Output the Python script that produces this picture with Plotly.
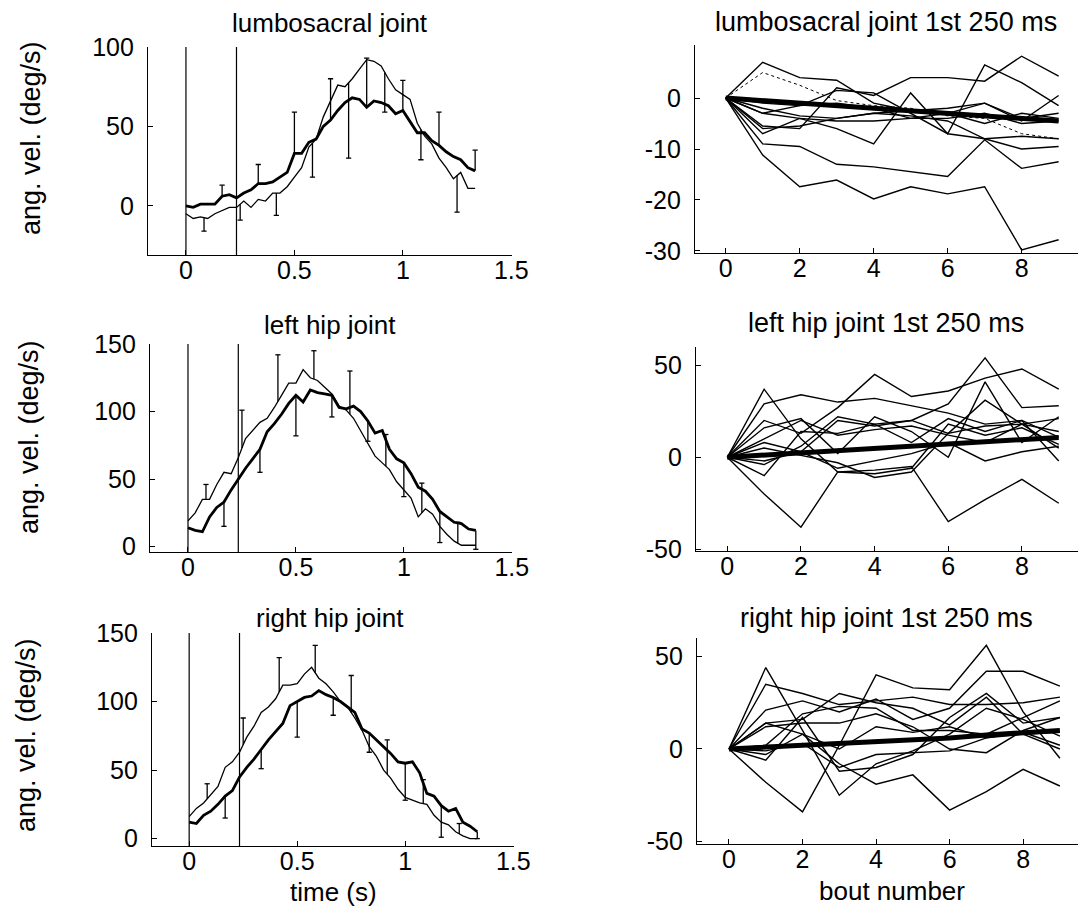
import numpy as np
import plotly.graph_objects as go

# page body keeps an 8px default margin, so the figure is 8px smaller and all
# pixel positions below (measured on the 1086x908 page) are shifted by OFF
OFF = 8
W, H = 1086 - OFF, 908 - OFF
FONT = "Liberation Sans, Arial, Helvetica, sans-serif"

# ---------------- data: left column (ensemble averages) ----------------
time_s = [round(i / 30, 4) for i in range(41)]
event_times = [0.0, 0.233]

lumbo_thick = [0, -1, 1, 1, 1, 6, 7, 5, 8, 10, 14, 14, 15, 18, 21, 33, 33, 40, 42, 50,
               54, 60, 65, 68, 67, 62, 66, 65, 63, 58, 60, 53, 46, 46, 41, 38, 34, 31, 29, 24, 22]
lumbo_thin = [-5, -8, -7, -8, -5, -3, -1, -1, 3, -1, 4, 3, 8, 8, 12, 18, 24, 37, 42, 56,
              66, 76, 75, 80, 86, 92, 91, 88, 80, 73, 70, 67, 52, 44, 39, 30, 24, 17, 21, 11, 11]
lhip_thin = [19, 25, 35, 35, 46, 55, 54, 66, 80, 86, 92, 95, 103, 112, 121, 121, 131, 125, 123, 118,
             113, 104, 101, 95, 86, 77, 67, 62, 57, 48, 42, 36, 22, 28, 24, 15, 9, 4, 1, 1, 1]
lhip_thick = [14, 12, 11, 22, 29, 33, 42, 50, 58, 65, 72, 85, 91, 98, 106, 112, 107, 116, 114, 113,
              112, 103, 102, 104, 100, 93, 84, 86, 72, 65, 62, 54, 44, 41, 35, 26, 22, 18, 17, 13, 12]
rhip_thin = [16, 22, 26, 32, 38, 52, 56, 63, 74, 82, 92, 96, 102, 112, 112, 113, 120, 125, 117, 113,
             107, 100, 96, 88, 79, 67, 60, 50, 44, 36, 30, 28, 26, 25, 17, 12, 10, 5, 2, 0, 0]
rhip_thick = [12, 11, 17, 20, 25, 31, 35, 45, 52, 58, 65, 72, 78, 84, 97, 100, 103, 104, 108, 105,
              103, 100, 96, 92, 80, 77, 72, 67, 62, 56, 55, 56, 48, 33, 31, 24, 20, 22, 12, 9, 5]

# error bars: odd twelfths on the thin trace, even twelfths on the thick trace
err_t_thin = [1/12, 3/12, 5/12, 7/12, 9/12, 11/12, 13/12, 15/12]
err_t_thick = [2/12, 4/12, 6/12, 8/12, 10/12, 12/12, 14/12, 16/12]
lumbo_err_thin_end = [-16, -9, -6, 18, 30, 59, 29, -4]
lumbo_err_thick_end = [13, 26, 59, 80, 93, 79, 59, 35]
lhip_err_thin_end = [46, 101, 142, 145, 130, 83, 47, 18]
lhip_err_thick_end = [15, 55, 82, 96, 78, 37, 3, -2]
rhip_err_thin_end = [40, 88, 132, 141, 119, 72, 43, 11]
rhip_err_thick_end = [15, 51, 74, 90, 63, 28, 1, 0]

# ---------------- data: right column (first 250 ms per bout) ----------------
bouts = list(range(10))
lumbo_bouts = [
    [0, 7.0, 4.0, 3.5, -1.0, -2.5, -3.0, -5.0, -3.0, -4.0],
    [0, -5.5, -6.0, 2.0, 0.5, 4.0, 4.0, 3.3, 8.2, 4.3],
    [0, -3.0, -4.0, -6.0, -9.0, 1.0, -7.0, 6.5, 3.0, -1.5],
    [0, -9.0, -9.5, -13.0, -13.5, -14.5, -15.4, -8.2, -13.8, -12.5],
    [0, -11.2, -17.4, -16.1, -19.8, -17.4, -18.8, -17.4, -29.8, -27.8],
    [0, -7.0, -4.0, -4.5, -4.5, -4.0, -4.0, -3.0, -5.0, -4.5],
    [0, -3.0, -1.5, 1.5, 1.0, -3.0, -7.0, -8.0, -10.0, -9.5],
    [0, -2.0, -3.5, -4.0, -3.0, -2.5, -2.0, -1.0, -4.5, 0.5],
    [0, -6.0, -5.5, -4.0, -3.0, -3.5, -4.5, -8.0, -7.5, -8.0],
    [0, -1.0, -1.5, -1.0, -2.0, -4.0, -3.0, -1.0, -4.0, -3.0],
]
lumbo_dotted = [0, 5.0, 2.5, -0.5, -1.5, -2.0, -3.5, -4.0, -7.0, -8.0]
lumbo_mean = [0, -0.5, -1.0, -1.5, -2.0, -2.5, -3.0, -3.3, -4.0, -4.5]

lhip_bouts = [
    [0, 37, 10, -8, -9, -6, 18, 12, 16, 7],
    [0, 29, 34, 30, 32, 28, 24, 18, 20, 11],
    [0, 20, 13, 27, 45, 33, 36, 43, 48, 37],
    [0, 8, 3, 20, 17, 20, 29, 54, 27, 28],
    [0, 16, 21, 2, 22, 14, 0, 41, 8, 22],
    [0, -10, 14, 13, 18, 20, 13, 31, 18, 14],
    [0, -20, -38, -8, -7, -5, -35, -23, -12, -25],
    [0, -4, 6, 22, 18, 8, 21, 14, 20, -2],
    [0, 5, 1, -3, -11, -8, 13, 17, 18, 21],
    [0, -2, 3, -6, -2, 2, 8, -2, 3, 6],
    [0, 10, 20, 12, 15, 17, 12, 8, 18, 5],
]
lhip_mean = [0, 1.2, 2.4, 3.6, 4.8, 6.0, 7.2, 8.4, 9.6, 10.8]

rhip_bouts = [
    [0, 44, 10, -25, -8, -1, 8, 22, 16, 7],
    [0, 35, 30, 24, 26, 28, 24, 24, 25, 28],
    [0, -18, -34, 2, 40, 33, 32, 56, 20, -5],
    [0, 14, 16, 30, 25, 22, 13, 28, 8, 0],
    [0, 21, 26, 20, 27, 16, 22, 42, 42, 34],
    [0, -6, 17, -12, -10, -3, 17, 30, 14, 17],
    [0, 14, 8, -8, -19, -14, -33, -23, -11, -20],
    [0, 2, 19, 23, 22, 10, 10, 8, 17, 26],
    [0, -3, 8, 0, 12, 9, 12, 6, 8, 9],
    [0, 12, 14, 14, 19, 12, 0, -2, 10, 17],
    [0, -1, 3, -10, -3, -2, -1, 6, 9, 2],
]
rhip_mean = [0, 1.0, 2.0, 2.5, 4.0, 5.0, 6.0, 7.5, 9.0, 10.0]

left_titles = ["lumbosacral joint", "left hip joint", "right hip joint"]
right_titles = ["lumbosacral joint 1st 250 ms", "left hip joint 1st 250 ms", "right hip joint 1st 250 ms"]

# ---------------- layout geometry (page pixels) ----------------
left_boxes = [
    (148, 511.5, 47, 255, [-0.175, 1.501], [-31, 100]),
    (150, 512, 344, 552, [-0.176, 1.501], [-4, 150]),
    (152, 513.5, 633, 846, [-0.172, 1.501], [-5.4, 150]),
]
right_boxes = [
    (695, 1086, 45, 253, [-0.83, 9.74], [-30.4, 10.4]),
    (696, 1086, 346.7, 550.7, [-0.85, 9.74], [-50.8, 60.1]),
    (697, 1086, 638.3, 844.3, [-0.87, 9.71], [-51.5, 59.8]),
]
left_yticks = [[0, 50, 100], [0, 50, 100, 150], [0, 50, 100, 150]]
right_yticks = [[-30, -20, -10, 0], [-50, 0, 50], [-50, 0, 50]]


def px(x):
    return (x - OFF) / W


def py(y):
    return 1 - (y - OFF) / H


fig = go.Figure()


def err_segments(tt, curve, tends, cap):
    base = np.interp(tends[0], tt, curve)
    xs, ys = [], []
    for te, b, e in zip(tends[0], base, tends[1]):
        xs += [te, te, None, te - cap, te + cap, None]
        ys += [b, e, None, e, e, None]
    return xs, ys


left_data = [
    (lumbo_thin, lumbo_thick, lumbo_err_thin_end, lumbo_err_thick_end),
    (lhip_thin, lhip_thick, lhip_err_thin_end, lhip_err_thick_end),
    (rhip_thin, rhip_thick, rhip_err_thin_end, rhip_err_thick_end),
]
right_data = [
    (lumbo_bouts, lumbo_mean, lumbo_dotted),
    (lhip_bouts, lhip_mean, None),
    (rhip_bouts, rhip_mean, None),
]

axis_idx = 0
layout_axes = {}
annotations = []
shapes = []


def axis_style(rng, dom, tickvals, ticktext, anchor, standoff):
    return dict(range=rng, domain=dom, tickvals=tickvals, ticktext=ticktext, anchor=anchor,
                showline=True, linecolor="black", linewidth=1.3, ticks="inside", ticklen=5,
                tickwidth=1, tickcolor="black", showgrid=False, zeroline=False,
                automargin=False, ticklabelstandoff=standoff,
                tickfont=dict(family=FONT, size=25, color="black"), fixedrange=True)


for row in range(3):
    for col in range(2):
        axis_idx += 1
        xa = "x" if axis_idx == 1 else f"x{axis_idx}"
        ya = "y" if axis_idx == 1 else f"y{axis_idx}"
        xkey = "xaxis" if axis_idx == 1 else f"xaxis{axis_idx}"
        ykey = "yaxis" if axis_idx == 1 else f"yaxis{axis_idx}"
        if col == 0:
            l, r, t, b, xr, yr = left_boxes[row]
            xt = [0, 0.5, 1, 1.5]
            xtt = ["0", "0.5", "1", "1.5"]
            yt = left_yticks[row]
        else:
            l, r, t, b, xr, yr = right_boxes[row]
            xt = [0, 2, 4, 6, 8]
            xtt = [str(v) for v in xt]
            yt = right_yticks[row]
        xdom = [px(l), min(1.0, px(r))]
        ydom = [py(b), py(t)]
        layout_axes[xkey] = axis_style(xr, xdom, xt, xtt, ya, -7)
        layout_axes[ykey] = axis_style(yr, ydom, yt, [str(v) for v in yt], xa, 8)

        if col == 0:
            thin, thick, e_thin, e_thick = left_data[row]
            for et in event_times:
                shapes.append(dict(type="line", xref=xa, yref=f"{ya} domain", x0=et, x1=et,
                                   y0=0, y1=1, line=dict(color="black", width=1.2)))
            fig.add_trace(go.Scatter(x=time_s, y=thin, mode="lines", xaxis=xa, yaxis=ya,
                                     line=dict(color="black", width=1.3), showlegend=False))
            fig.add_trace(go.Scatter(x=time_s, y=thick, mode="lines", xaxis=xa, yaxis=ya,
                                     line=dict(color="black", width=2.8), showlegend=False))
            for curve, tt, ends in ((thin, err_t_thin, e_thin), (thick, err_t_thick, e_thick)):
                xs, ys = err_segments(time_s, curve, (tt, ends), 0.012)
                fig.add_trace(go.Scatter(x=xs, y=ys, mode="lines", xaxis=xa, yaxis=ya,
                                         line=dict(color="black", width=1.3), showlegend=False))
            annotations.append(dict(text=left_titles[row], xref="paper", yref="paper",
                                    x=px(330), y=py([23, 325, 618][row]),
                                    xanchor="center", yanchor="middle", showarrow=False,
                                    font=dict(family=FONT, size=26, color="black")))
            annotations.append(dict(text="ang. vel. (deg/s)", xref="paper", yref="paper",
                                    x=px([31, 29, 26][row]), y=py([138, 437, 735][row]),
                                    xanchor="center", yanchor="middle", showarrow=False, textangle=-90,
                                    font=dict(family=FONT, size=27, color="black")))
        else:
            lines, mean, dotted = right_data[row]
            for ln in lines:
                fig.add_trace(go.Scatter(x=bouts, y=ln, mode="lines", xaxis=xa, yaxis=ya,
                                         line=dict(color="black", width=1.4), showlegend=False))
            if dotted is not None:
                fig.add_trace(go.Scatter(x=bouts, y=dotted, mode="lines", xaxis=xa, yaxis=ya,
                                         line=dict(color="black", width=1.0, dash="dot"),
                                         showlegend=False))
            fig.add_trace(go.Scatter(x=bouts, y=mean, mode="lines", xaxis=xa, yaxis=ya,
                                     line=dict(color="black", width=5), showlegend=False))
            annotations.append(dict(text=right_titles[row], xref="paper", yref="paper",
                                    x=px(886), y=py([22, 323, 618][row]),
                                    xanchor="center", yanchor="middle", showarrow=False,
                                    font=dict(family=FONT, size=27, color="black")))

annotations.append(dict(text="time (s)", xref="paper", yref="paper", x=px(333), y=py(892),
                        xanchor="center", yanchor="middle", showarrow=False,
                        font=dict(family=FONT, size=26, color="black")))
annotations.append(dict(text="bout number", xref="paper", yref="paper", x=px(892), y=py(891),
                        xanchor="center", yanchor="middle", showarrow=False,
                        font=dict(family=FONT, size=26, color="black")))

fig.update_layout(width=W, height=H, autosize=False, margin=dict(l=0, r=0, t=0, b=0),
                  paper_bgcolor="white", plot_bgcolor="white", showlegend=False,
                  annotations=annotations, shapes=shapes, **layout_axes)

fig.write_html("out.html")
